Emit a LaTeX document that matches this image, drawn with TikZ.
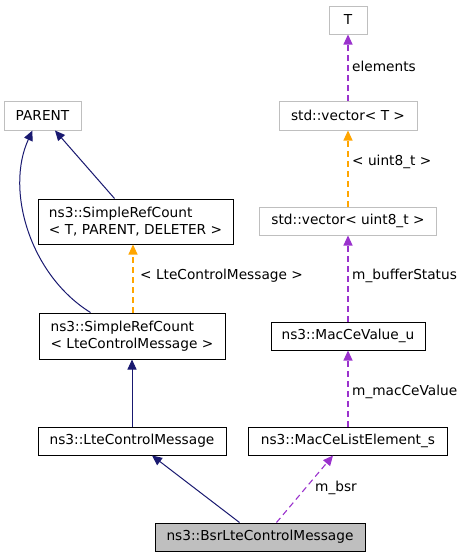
\documentclass[tikz,border=0pt]{standalone}
\usepackage{fontspec}
\setmainfont{DejaVu Sans}
\usetikzlibrary{arrows.meta}
\definecolor{edgeblue}{RGB}{25,25,112}
\definecolor{edgeorange}{RGB}{255,165,0}
\definecolor{edgepurple}{RGB}{154,50,205}
\definecolor{boxgray}{RGB}{191,191,191}

\begin{document}
\begin{tikzpicture}[x=1pt, y=-1pt,
    cls/.style={draw=black, fill=white, line width=1pt, minimum height=28pt, inner sep=0pt,
        font=\fontsize{13.7}{17.5}\selectfont, align=left},
    ext/.style={cls, draw=boxgray},
    cur/.style={cls, fill=boxgray},
    inh/.style={edgeblue, line width=1pt, -{Triangle[length=10pt,width=9pt]}},
    tmpl/.style={edgeorange, line width=1.1pt, dash pattern=on 6pt off 4pt, -{Triangle[length=10pt,width=9pt]}},
    usage/.style={edgepurple, line width=1.1pt, dash pattern=on 6pt off 4pt, -{Triangle[length=10pt,width=9pt]}},
    lbl/.style={anchor=west, inner sep=0pt, font=\fontsize{13.7}{16}\selectfont}]
    \useasboundingbox (0,0) rectangle (463,557);

    % classes
    \node[ext, minimum width=38pt] (t) at (348,20) {T};
    \node[ext, minimum width=77pt, minimum height=29pt] (parent) at (42.5,115.5) {PARENT};
    \node[ext, minimum width=138pt, minimum height=29pt] (vect) at (348,115.5) {std::vector< T >};
    \node[cls, minimum width=195pt, minimum height=45pt] (srct) at (135.5,221.5) {ns3::SimpleRefCount\\< T, PARENT, DELETER >};
    \node[ext, minimum width=177pt] (vecu) at (348,221) {std::vector< uint8\_t >};
    \node[cls, minimum width=186pt, minimum height=46pt] (srclte) at (132,336) {ns3::SimpleRefCount\\< LteControlMessage >};
    \node[cls, minimum width=154pt] (macval) at (348,336) {ns3::MacCeValue\_u};
    \node[cls, minimum width=188pt] (lte) at (132,441) {ns3::LteControlMessage};
    \node[cls, minimum width=199pt] (macce) at (348,441) {ns3::MacCeListElement\_s};
    \node[cur, minimum width=210pt] (bsr) at (260,537) {ns3::BsrLteControlMessage};

    % inheritance
    \draw[inh] ([xshift=77pt]srct.north west) -- ([xshift=12.5pt]parent.south);
    \draw[inh] ([xshift=52pt]srclte.north west) .. controls (30,275) and (5,190) .. ([xshift=-10pt]parent.south);
    \draw[inh] (lte.north) -- (srclte.south);
    \draw[inh] ([xshift=85pt]bsr.north west) -- ([xshift=20pt]lte.south);

    % templates
    \draw[tmpl] ([xshift=1pt]srclte.north) -- ([xshift=1pt]srclte.north |- srct.south);
    \draw[tmpl] (vecu.north) -- (vect.south);

    % members
    \draw[usage] (vect.north) -- (t.south);
    \draw[usage] (macval.north) -- (vecu.south);
    \draw[usage] (macce.north) -- (macval.south);
    \draw[usage] ([xshift=122pt]bsr.north west) -- ([xshift=-15pt]macce.south);

    % labels
    \node[lbl] (lelem) at (352,66) {elements};
    \node[lbl] (luint) at (352,162) {< uint8\_t >};
    \node[lbl] (lbuf) at (352,276) {m\_bufferStatus};
    \node[lbl] (llte) at (140,276) {< LteControlMessage >};
    \node[lbl] (lval) at (352,392) {m\_macCeValue};
    \node[lbl] (lbsr) at (315,488) {m\_bsr};
\end{tikzpicture}
\end{document}
